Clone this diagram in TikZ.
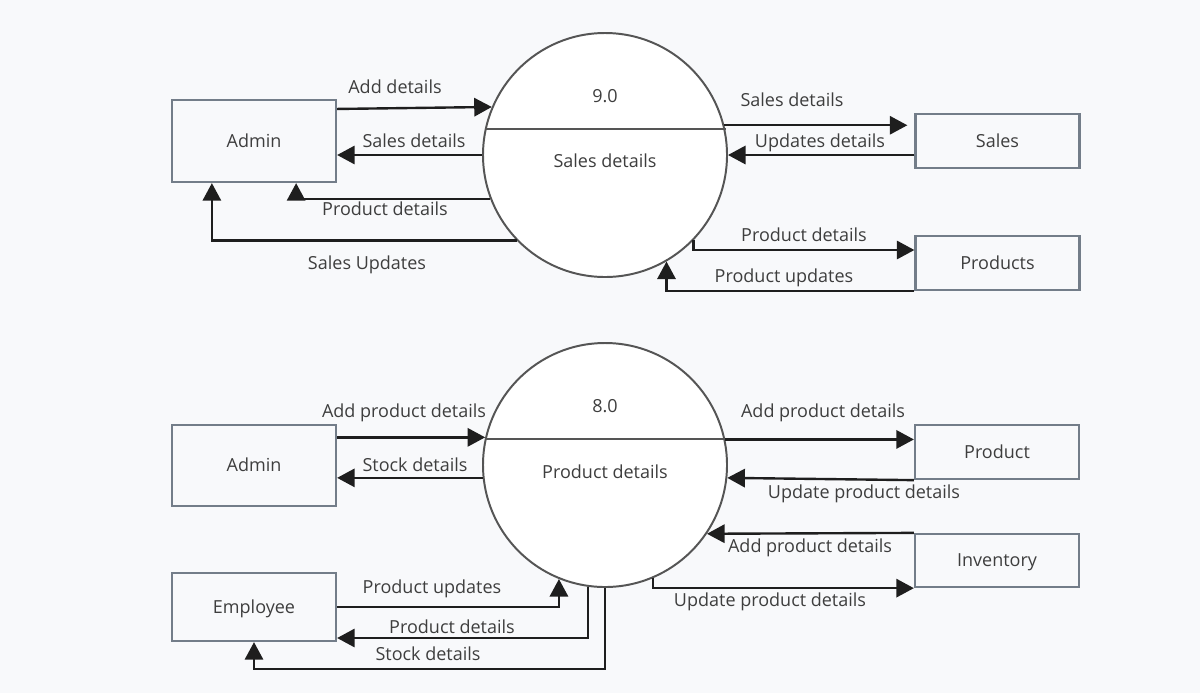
\documentclass[tikz,border=0pt]{standalone}
\usepackage{fontspec}
\setmainfont{Open Sans}
\usetikzlibrary{arrows.meta,calc}
\definecolor{bg}{HTML}{F8F9FB}
\definecolor{boxline}{HTML}{737D89}
\definecolor{circline}{HTML}{555555}
\definecolor{txt}{HTML}{3E3E3E}
\definecolor{flow}{HTML}{1E1E1E}
\tikzset{
  ent/.style={draw=boxline, line width=1.6pt, fill=bg, minimum width=164*0.025cm, minimum height=#1*0.025cm, inner sep=0pt, text=txt, text height=9.1pt, text depth=0pt},
  proc/.style={draw=circline, line width=1.4pt, fill=white, circle, minimum size=244*0.025cm, inner sep=0pt},
  lbl/.style={text=txt, inner sep=0pt, text height=9.1pt, text depth=0pt},
  flowline/.style={draw=flow, line width=1.7pt, -{Triangle[length=12.5pt,width=13pt]}},
  chord/.style={draw=circline, line width=1.4pt},
}
\begin{document}
\begin{tikzpicture}[x=0.025cm,y=-0.025cm,font=\fontsize{12.8}{15}\selectfont]
\fill[bg] (0,0) rectangle (1200,693);
\useasboundingbox (0,0) rectangle (1200,693);
% ---------- top diagram ----------
\node[proc] (c9) at (605,155) {};
\draw[chord] (c9.168.2) -- (c9.168.2 -| c9.11.8);
\node[lbl] (n9) at (605,96) {9.0};
\node[lbl] (t9) at (605,161) {Sales details};
\node[ent=82] (a1) at (254,141) {Admin};
\node[ent=54] (s) at (997.5,141) {Sales};
\node[ent=54] (pr) at (997.5,263) {Products};
\draw[flowline] ($(a1.east |- c9.157.3)+(0,2)$) -- (c9.157.3);
\draw[flowline] (c9.west) -- (a1.east |- c9.west);
\draw[flowline] (c9.201.6) -| ($(a1.south east)+(-41,0)$);
\draw[flowline] (c9.224.8) -| ($(a1.south west)+(41,0)$);
\draw[flowline, shorten >=5pt] (c9.14.7) -- (s.west |- c9.14.7);
\draw[flowline] (s.west |- c9.east) -- (c9.east);
\draw[flowline] (c9.-44.5) |- ($(pr.west)+(0,-13)$);
\draw[flowline] (pr.south west) -| (c9.-60);
\node[lbl] (l1) at (395,87) {Add details};
\node[lbl] (l2) at (414,141) {Sales details};
\node[lbl] (l3) at (385,209) {Product details};
\node[lbl] (l4) at (367,263) {Sales Updates};
\node[lbl] (l5) at (792,100) {Sales details};
\node[lbl] (l6) at (820,141) {Updates details};
\node[lbl] (l7) at (804,235) {Product details};
\node[lbl] (l8) at (784,276) {Product updates};
% ---------- bottom diagram ----------
\node[proc] (c8) at (605,465) {};
\draw[chord] (c8.168.2) -- (c8.168.2 -| c8.11.8);
\node[lbl] (n8) at (605,406) {8.0};
\node[lbl] (t8) at (605,472) {Product details};
\node[ent=81] (a2) at (254,465.5) {Admin};
\node[ent=68] (e) at (254,607) {Employee};
\node[ent=54] (p) at (997,452) {Product};
\node[ent=53] (inv) at (997,560.5) {Inventory};
\draw[flowline] (a2.east |- c8.167.2) -- (c8.167.2);
\draw[flowline] (c8.186.6) -- (a2.east |- c8.186.6);
\draw[flowline] (e.east) -| (c8.248.4);
\draw[flowline] (c8.262.9) |- ($(e.east)+(0,31)$);
\draw[flowline] (c8.south) -- ++(0,81) -| (e.south);
\draw[flowline] (c8.12.8) -- (p.west |- c8.12.8);
\draw[flowline] (p.south west) -- (c8.-6.6);
\draw[flowline] (inv.north west) -- (c8.-34.4);
\draw[flowline] (c8.-67.3) |- (inv.south west);
\node[lbl] (l9) at (404,411) {Add product details};
\node[lbl] (l10) at (415,465) {Stock details};
\node[lbl] (l11) at (432,587) {Product updates};
\node[lbl] (l12) at (452,627) {Product details};
\node[lbl] (l13) at (428,654) {Stock details};
\node[lbl] (l14) at (823,411) {Add product details};
\node[lbl] (l15) at (864,492) {Update product details};
\node[lbl] (l16) at (810,546) {Add product details};
\node[lbl] (l17) at (770,600) {Update product details};
\end{tikzpicture}
\end{document}
